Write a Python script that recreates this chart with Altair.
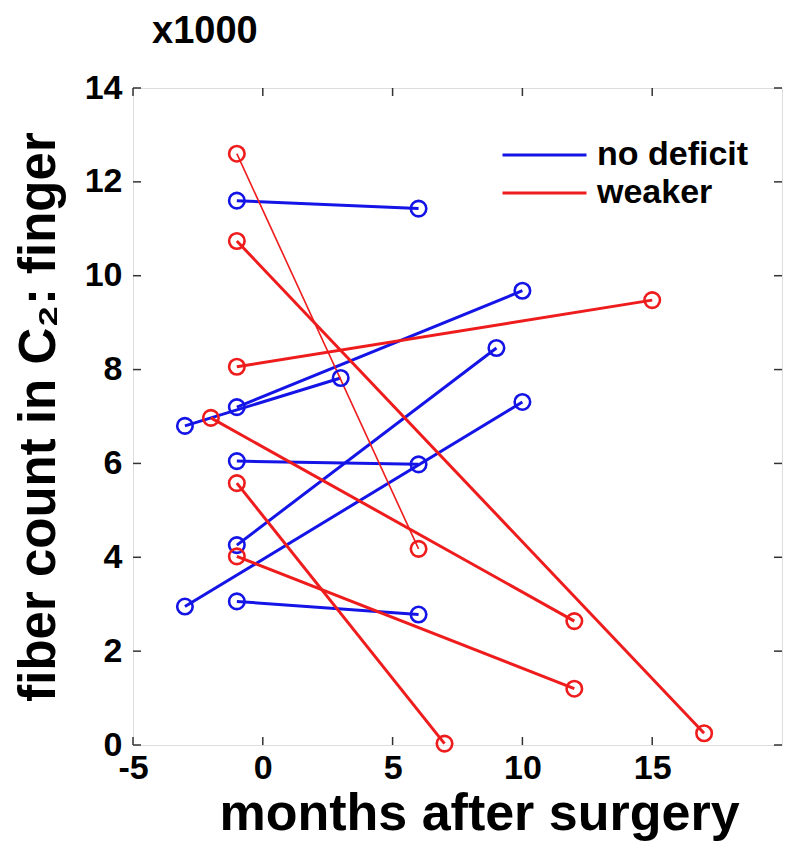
import altair as alt
import pandas as pd

# ---- data (fiber count in thousands) ----
groups = ["no deficit", "weaker"]

blue_x0 = [-1, -1, -3, -1, -1, -3, -1]
blue_y0 = [11.60, 7.20, 6.80, 6.05, 4.26, 2.95, 3.06]
blue_x1 = [6, 10, 3, 6, 9, 10, 6]
blue_y1 = [11.43, 9.68, 7.82, 5.98, 8.46, 7.31, 2.78]

red_x0 = [-1, -1, -1, -2, -1, -1]
red_y0 = [12.60, 10.74, 8.06, 6.97, 5.58, 4.02]
red_x1 = [6, 17, 15, 12, 7, 12]
red_y1 = [4.18, 0.25, 9.48, 2.64, 0.03, 1.20]

x_ticks = [-5, 0, 5, 10, 15]
y_ticks = [0, 2, 4, 6, 8, 10, 12, 14]

rows = []
for i, (a, b, c, d) in enumerate(zip(blue_x0, blue_y0, blue_x1, blue_y1)):
    rows.append({"subject": f"b{i}", "group": groups[0], "month": a, "count": b})
    rows.append({"subject": f"b{i}", "group": groups[0], "month": c, "count": d})
for i, (a, b, c, d) in enumerate(zip(red_x0, red_y0, red_x1, red_y1)):
    rows.append({"subject": f"r{i}", "group": groups[1], "month": a, "count": b})
    rows.append({"subject": f"r{i}", "group": groups[1], "month": c, "count": d})
df = pd.DataFrame(rows)

W, H = 649, 657
FONT = "Liberation Sans"
colors = ["#1414e6", "#ee1c1c"]

xscale = alt.Scale(domain=[-5, 20], nice=False, zero=False)
yscale = alt.Scale(domain=[0, 14], nice=False, zero=False)

x_enc = alt.X(
    "month:Q", scale=xscale,
    axis=alt.Axis(
        values=x_ticks, title="months after surgery", grid=False, domain=False, ticks=False,
        labelExpr="(datum.value < 0 ? '-' : '') + abs(datum.value)",
        labelFont=FONT, labelFontSize=34, labelFontWeight="bold", labelColor="black",
        labelPadding=6, labelFlush=False,
        titleFont=FONT, titleFontSize=52, titleFontWeight="bold", titleColor="black",
        titleX=346, titleY=84, titleBaseline="alphabetic", titleAlign="center",
    ),
)
y_enc = alt.Y(
    "count:Q", scale=yscale,
    axis=alt.Axis(
        values=y_ticks, title="fiber count in C₂: finger", grid=False, domain=False, ticks=False,
        labelFont=FONT, labelFontSize=34, labelFontWeight="bold", labelColor="black",
        labelPadding=11, labelFlush=False,
        titleFont=FONT, titleFontSize=51, titleFontWeight="bold", titleColor="black",
        titleX=-79, titleBaseline="alphabetic", titleAngle=-90,
    ),
)

base = alt.Chart(df)

lines = base.mark_line().encode(
    x=x_enc,
    y=y_enc,
    detail="subject:N",
    color=alt.Color(
        "group:N",
        scale=alt.Scale(domain=groups, range=colors),
        legend=alt.Legend(
            title=None, orient="none", legendX=363, legendY=50,
            symbolType="M-1,0H7", symbolSize=441, symbolStrokeWidth=3,
            labelFont=FONT, labelFontSize=34, labelFontWeight="bold", labelColor="black",
            labelOffset=67, rowPadding=4,
        ),
    ),
    strokeWidth=alt.condition(alt.datum.subject == "r0", alt.value(1.6), alt.value(3)),
)

points = base.mark_point(shape="circle", filled=False, size=240, strokeWidth=2.6, opacity=1).encode(
    x=alt.X("month:Q", scale=xscale),
    y=alt.Y("count:Q", scale=yscale),
    stroke=alt.Stroke("group:N", scale=alt.Scale(domain=groups, range=colors), legend=None),
)

xt = alt.Chart(pd.DataFrame({"t": x_ticks}))
yt = alt.Chart(pd.DataFrame({"t": y_ticks}))
tick_style = dict(color="#333333", strokeWidth=1.5)
ticks_bottom = xt.mark_rule(**tick_style).encode(x=alt.X("t:Q", scale=xscale), y=alt.value(H), y2=alt.value(H - 8))
ticks_top = xt.mark_rule(**tick_style).encode(x=alt.X("t:Q", scale=xscale), y=alt.value(0), y2=alt.value(8))
ticks_left = yt.mark_rule(**tick_style).encode(y=alt.Y("t:Q", scale=yscale), x=alt.value(0), x2=alt.value(8))
ticks_right = yt.mark_rule(**tick_style).encode(y=alt.Y("t:Q", scale=yscale), x=alt.value(W), x2=alt.value(W - 8))

chart = alt.layer(
    ticks_bottom, ticks_top, ticks_left, ticks_right, lines, points
).properties(
    width=W, height=H,
    title=alt.TitleParams(
        text="x1000", anchor="start", frame="group", dx=19, dy=10, offset=0,
        baseline="alphabetic", font=FONT, fontSize=38, fontWeight="bold", color="black",
    ),
    padding={"left": 5, "top": 5, "right": 5, "bottom": 5},
).configure_view(
    stroke="#333333", strokeWidth=2
).configure(background="white")

chart.save("out.html", embed_options={"renderer": "svg", "actions": False})
